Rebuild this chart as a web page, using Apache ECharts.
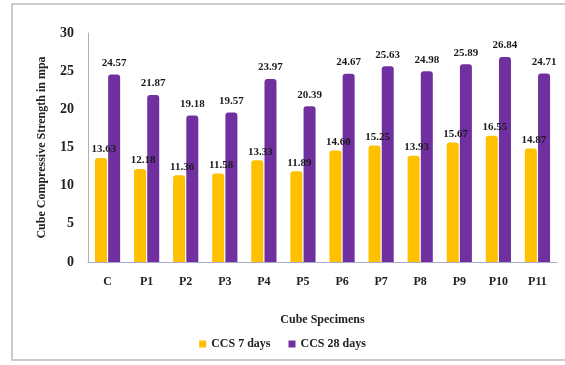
<!DOCTYPE html>
<html><head><meta charset="utf-8">
<script src="https://cdn.jsdelivr.net/npm/echarts@6/dist/echarts.min.js"></script>
<style>html,body{margin:0;padding:0;background:#fff}#c{width:565px;height:365px}</style>
</head><body><div id="c"></div>
<script>
var categories = ['C','P1','P2','P3','P4','P5','P6','P7','P8','P9','P10','P11'];
var ccs7 = [13.63,12.18,11.36,11.58,13.33,11.89,14.60,15.25,13.93,15.67,16.55,14.87];
var ccs28 = [24.57,21.87,19.18,19.57,23.97,20.39,24.67,25.63,24.98,25.89,26.84,24.71];
var yTicks = [0,5,10,15,20,25,30];
var font = 'Liberation Serif';
var chart = echarts.init(document.getElementById('c'));
var lbl = {show:true, position:'top', distance:3, offset:[3,0], fontFamily:font, fontWeight:'bold', fontSize:11, color:'#1a1a1a', formatter:function(p){return p.value.toFixed(2);}};
chart.setOption({
  animation:false,
  graphic:[{type:'rect', shape:{x:12,y:4,width:560,height:356}, style:{fill:'none', stroke:'#bbbbbb', lineWidth:1.5}}],
  grid:{left:88, right:8, top:33, bottom:103},
  legend:{top:333, left:'center', itemWidth:7, itemHeight:7, itemGap:18, icon:'rect',
    textStyle:{fontFamily:font, fontWeight:'bold', fontSize:12, color:'#222'}},
  xAxis:{type:'category', data:categories, name:'Cube Specimens', nameLocation:'middle', nameGap:52,
    nameTextStyle:{fontFamily:font, fontWeight:'bold', fontSize:12, color:'#222'},
    axisLine:{lineStyle:{color:'#a9a9c9'}}, axisTick:{show:false},
    axisLabel:{fontFamily:font, fontWeight:'bold', fontSize:12, color:'#222', margin:14}},
  yAxis:{type:'value', min:0, max:30, interval:5, name:'Cube Compressive Strength in mpa', nameLocation:'middle', nameGap:40,
    nameTextStyle:{fontFamily:font, fontWeight:'bold', fontSize:12, color:'#222'},
    axisLine:{show:true, lineStyle:{color:'#b0b0b0'}}, axisTick:{show:false}, splitLine:{show:false},
    axisLabel:{fontFamily:font, fontWeight:'bold', fontSize:14, color:'#222', margin:14, formatter:function(v){return yTicks.indexOf(v)>=0?String(v):'';}}},
  series:[
    {name:'CCS 7 days', type:'bar', data:ccs7, barWidth:12, barGap:'10%', itemStyle:{color:'#FFC000', borderRadius:[3,3,0,0]}, label:lbl},
    {name:'CCS 28 days', type:'bar', data:ccs28, barWidth:12, itemStyle:{color:'#7030A0', borderRadius:[3,3,0,0]}, label:Object.assign({}, lbl, {distance:6, offset:[0,0]})}
  ]
});
</script></body></html>
